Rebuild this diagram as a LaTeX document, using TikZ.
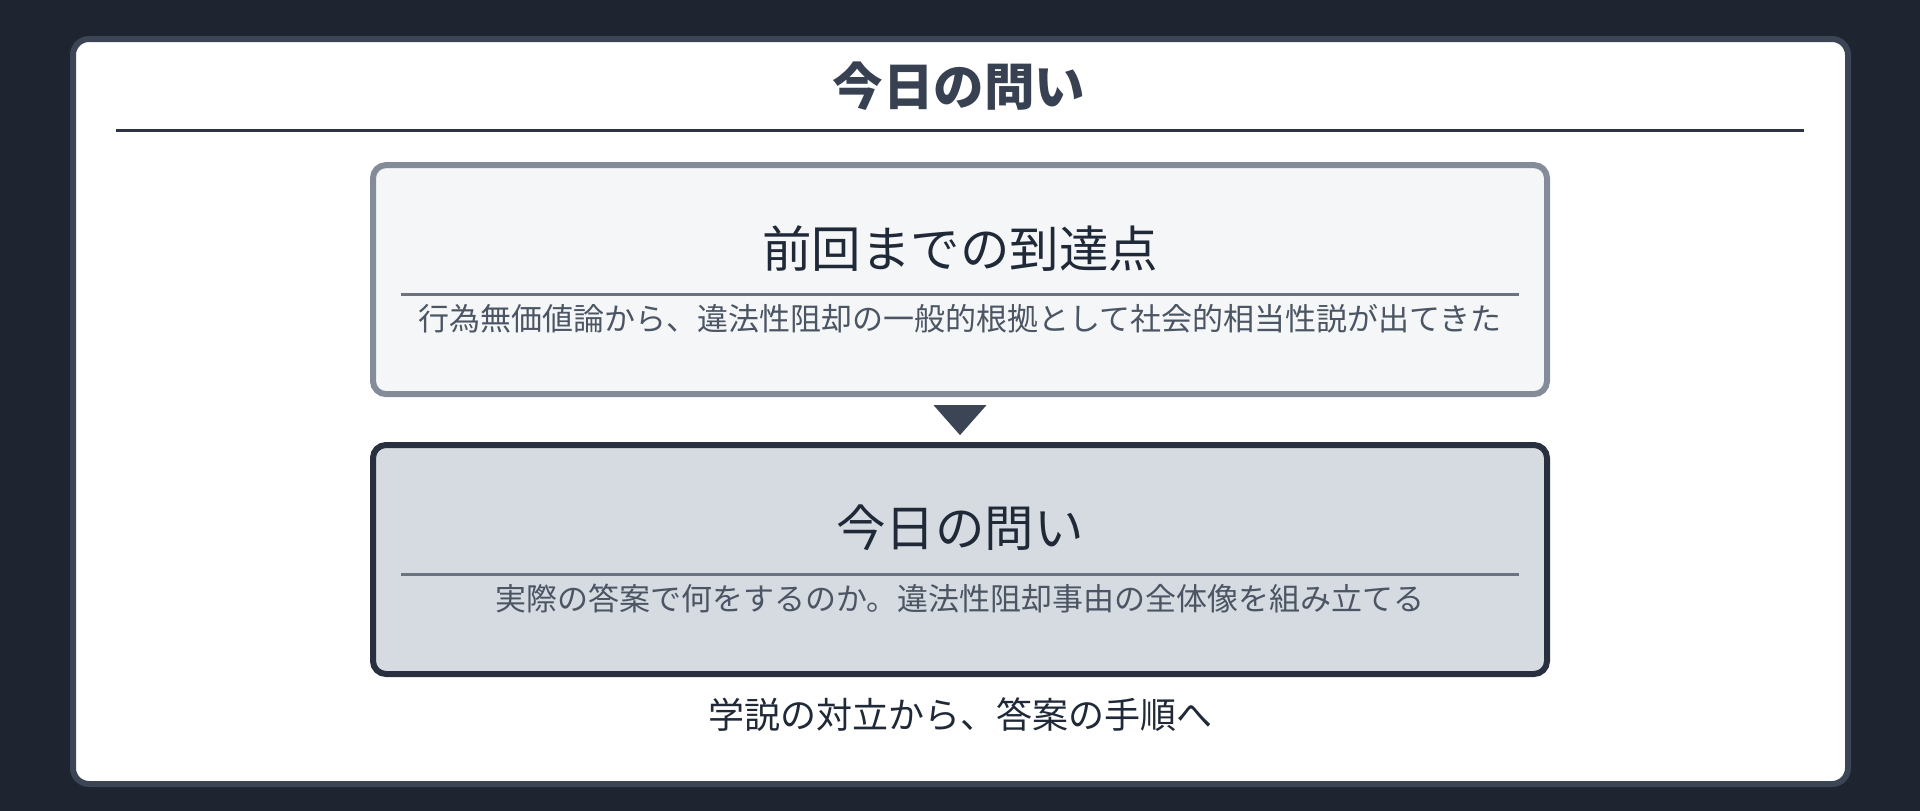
\documentclass[tikz,border=0pt]{standalone}
\usepackage{fontspec}
\setmainfont{Noto Sans CJK JP}
\usepackage{tikz}
\usetikzlibrary{calc, positioning}

\definecolor{bgdark}{RGB}{30, 37, 48}
\definecolor{panelline}{RGB}{59, 69, 86}
\definecolor{titletext}{RGB}{55, 65, 81}
\definecolor{ruleline}{RGB}{45, 51, 64}
\definecolor{prevfill}{RGB}{244, 246, 248}
\definecolor{prevline}{RGB}{132, 140, 153}
\definecolor{nowfill}{RGB}{214, 219, 226}
\definecolor{nowline}{RGB}{40, 48, 64}
\definecolor{sepgray}{RGB}{107, 114, 128}
\definecolor{headtext}{RGB}{31, 41, 55}
\definecolor{subtext}{RGB}{75, 85, 99}

\tikzset{
  stagebox/.style={rounded corners=13pt, line width=6pt, minimum width=1174pt, minimum height=229pt, inner sep=0pt},
  stagehead/.style={font=\fontsize{49.5}{58}\selectfont, text=headtext, inner sep=0pt},
  stagesub/.style={font=\fontsize{31}{37}\selectfont, text=subtext, inner sep=0pt},
  sepline/.style={draw=sepgray, line width=2.5pt}
}

\begin{document}
\begin{tikzpicture}[x=1pt, y=-1pt]
  \fill[bgdark] (0, 0) rectangle (1920, 811);
  \draw[panelline, fill=white, line width=6pt, rounded corners=16pt] (73, 39) rectangle (1848, 784);

  % heading
  \node[font=\fontsize{50.5}{60}\selectfont\bfseries, text=titletext, inner sep=0pt] (heading) at (959, 86) {今日の問い};
  \draw[ruleline, line width=3pt] (116, 130.2) -- (1804, 130.2);

  % previous
  \node[stagebox, draw=prevline, fill=prevfill] (prev) at (960, 279.6) {};
  \node[stagehead] (prevhead) at (960, 248.6) {前回までの到達点};
  \draw[sepline] ($(prev.west)+(31, 14.7)$) -- ($(prev.east)+(-31, 14.7)$);
  \node[stagesub] (prevsub) at (960, 318.4) {行為無価値論から、違法性阻却の一般的根拠として社会的相当性説が出てきた};

  % arrow
  \fill[panelline] ($(prev.south)+(-26.5, 8)$) -- ($(prev.south)+(26.5, 8)$) -- ($(prev.south)+(0, 38)$) -- cycle;

  % today
  \node[stagebox, draw=nowline, fill=nowfill] (now) at (960, 559.5) {};
  \node[stagehead] (nowhead) at (960, 527.8) {今日の問い};
  \draw[sepline] ($(now.west)+(31, 14.8)$) -- ($(now.east)+(-31, 14.8)$);
  \node[stagesub] (nowsub) at (960, 598.8) {実際の答案で何をするのか。違法性阻却事由の全体像を組み立てる};

  % closing line
  \node[font=\fontsize{36}{43}\selectfont, text=headtext, inner sep=0pt] (closing) at (960, 715) {学説の対立から、答案の手順へ};
\end{tikzpicture}
\end{document}
